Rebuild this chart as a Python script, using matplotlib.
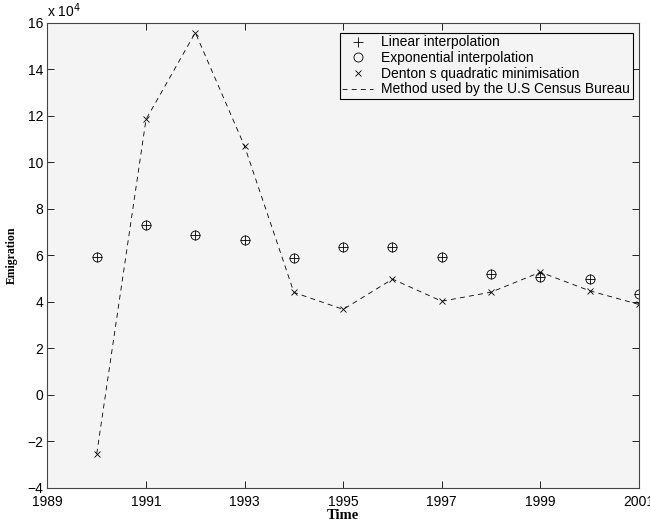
import matplotlib
matplotlib.use("Agg")
import matplotlib.pyplot as plt
from matplotlib.ticker import FuncFormatter, FixedLocator

# Annual emigration estimates (persons)
years = [1990, 1991, 1992, 1993, 1994, 1995, 1996, 1997, 1998, 1999, 2000, 2001]
linear = [59200, 73000, 68700, 66500, 58700, 63500, 63500, 59400, 52200, 50800, 49900, 43500]
exponential = [59200, 73000, 68700, 66500, 58700, 63500, 63500, 59400, 52200, 50800, 49900, 43500]
denton = [-25300, 118500, 155800, 106900, 44100, 36800, 49800, 40300, 44200, 52800, 44800, 38900]
census = [-25300, 118500, 155800, 106900, 44100, 36800, 49800, 40300, 44200, 52800, 44800, 38900]

xticks = [1989, 1991, 1993, 1995, 1997, 1999, 2001]
yticks = [-4e4, -2e4, 0, 2e4, 4e4, 6e4, 8e4, 10e4, 12e4, 14e4, 16e4]

plt.rcParams['font.family'] = ['Liberation Sans', 'DejaVu Sans']

fig = plt.figure(figsize=(6.5, 5.25), dpi=100)
ax = fig.add_axes([0.073, 0.0705, 0.910, 0.886])
ax.set_facecolor('#f4f4f4')

ax.plot(years, linear, linestyle='none', marker='+', color='black',
        markersize=6.5, markeredgewidth=0.6, label='Linear interpolation')
ax.plot(years, exponential, linestyle='none', marker='o', color='black',
        markerfacecolor='none', markersize=6.5, markeredgewidth=0.6,
        label='Exponential interpolation')
ax.plot(years, denton, linestyle='none', marker='x', color='black',
        markersize=4.5, markeredgewidth=0.6, label='Denton s quadratic minimisation')
ax.plot(years, census, linestyle=(0, (6, 5)), color='black', linewidth=0.6,
        label='Method used by the U.S Census Bureau')

ax.set_xlim(1989, 2001)
ax.set_ylim(-4e4, 16e4)
ax.xaxis.set_major_locator(FixedLocator(xticks))
ax.yaxis.set_major_locator(FixedLocator(yticks))
ax.yaxis.set_major_formatter(FuncFormatter(lambda v, p: f"{v/1e4:g}".replace('-', '\u2212')))

ax.tick_params(direction='in', length=5, width=0.6, top=True, right=True,
               labelsize=10)
ax.tick_params(axis='x', pad=5)
ax.tick_params(axis='y', pad=3)
for s in ax.spines.values():
    s.set_linewidth(0.8)
    s.set_color('#444444')

ax.text(0.0, 1.006, 'x 10$^{4}$', transform=ax.transAxes, ha='left',
        va='bottom', fontsize=10)

ax.set_xlabel('Time', family=['Liberation Serif'], fontweight='bold',
              fontsize=10.5, labelpad=0)
ax.set_ylabel('Emigration', family=['Liberation Serif'], fontweight='bold',
              fontsize=8.5, labelpad=7)

leg = ax.legend(loc='upper right', bbox_to_anchor=(0.99, 0.979), fontsize=10,
                frameon=True, fancybox=False, borderpad=0.2, labelspacing=0.12,
                handlelength=2.2, handletextpad=0.6, borderaxespad=0)
leg.get_frame().set_edgecolor('black')
leg.get_frame().set_linewidth(0.8)
leg.get_frame().set_facecolor('#f4f4f4')
leg.get_frame().set_alpha(1)

fig.savefig('out.png', dpi=100, facecolor='white')
